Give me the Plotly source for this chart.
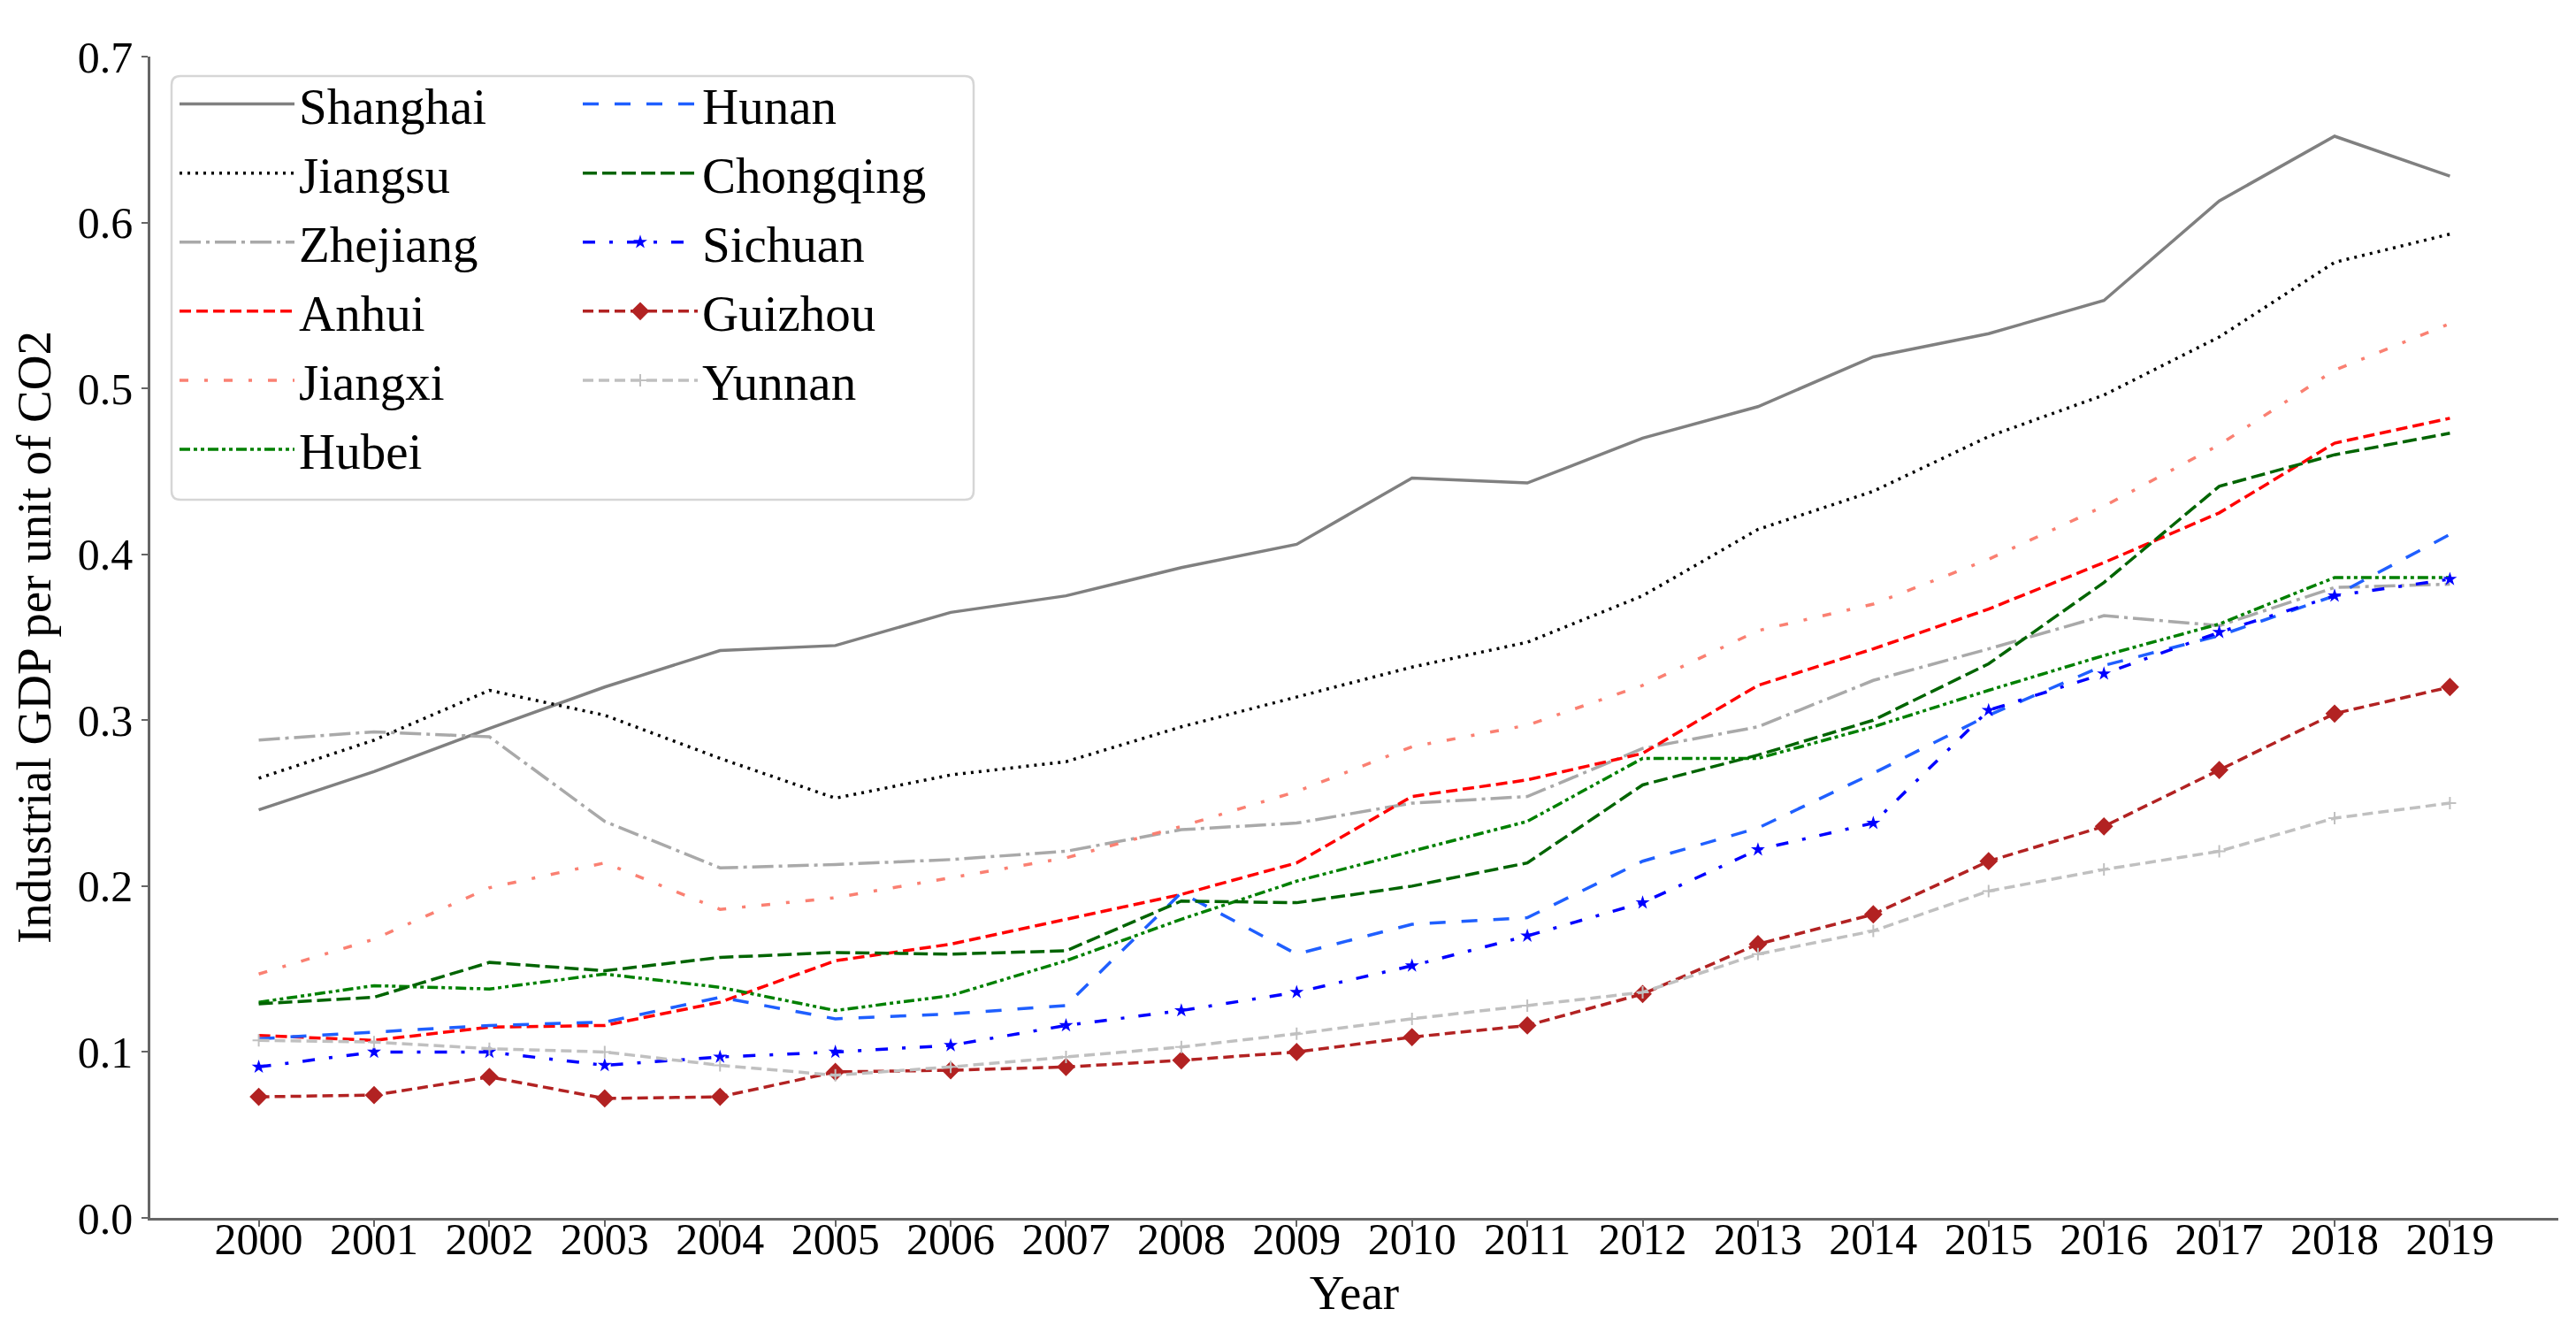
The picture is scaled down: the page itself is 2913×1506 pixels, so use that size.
import plotly.graph_objects as go

years = list(range(2000, 2020))

shanghai = [0.246, 0.269, 0.295, 0.320, 0.342, 0.345, 0.365, 0.375, 0.392, 0.406,
            0.446, 0.443, 0.470, 0.489, 0.519, 0.533, 0.553, 0.613, 0.652, 0.628]
jiangsu = [0.265, 0.288, 0.318, 0.303, 0.277, 0.253, 0.267, 0.275, 0.296, 0.314,
           0.332, 0.347, 0.375, 0.415, 0.438, 0.471, 0.496, 0.531, 0.576, 0.593]
zhejiang = [0.288, 0.293, 0.290, 0.239, 0.211, 0.213, 0.216, 0.221, 0.234, 0.238,
            0.250, 0.254, 0.283, 0.296, 0.324, 0.343, 0.363, 0.357, 0.380, 0.382]
anhui = [0.110, 0.107, 0.115, 0.116, 0.130, 0.155, 0.165, 0.180, 0.195, 0.214,
         0.254, 0.264, 0.280, 0.321, 0.343, 0.367, 0.395, 0.425, 0.467, 0.482]
jiangxi = [0.147, 0.168, 0.199, 0.214, 0.186, 0.193, 0.205, 0.217, 0.236, 0.257,
           0.284, 0.297, 0.321, 0.354, 0.370, 0.397, 0.429, 0.466, 0.511, 0.539]
hubei = [0.130, 0.140, 0.138, 0.147, 0.139, 0.125, 0.134, 0.155, 0.180, 0.203,
         0.221, 0.239, 0.277, 0.277, 0.296, 0.318, 0.339, 0.358, 0.386, 0.386]
hunan = [0.108, 0.112, 0.116, 0.118, 0.133, 0.120, 0.123, 0.128, 0.196, 0.159,
         0.177, 0.181, 0.215, 0.235, 0.268, 0.303, 0.333, 0.351, 0.375, 0.412]
chongqing = [0.129, 0.133, 0.154, 0.149, 0.157, 0.160, 0.159, 0.161, 0.191, 0.190,
             0.200, 0.214, 0.261, 0.279, 0.300, 0.334, 0.383, 0.441, 0.460, 0.473]
sichuan = [0.091, 0.100, 0.100, 0.092, 0.097, 0.100, 0.104, 0.116, 0.125, 0.136,
           0.152, 0.170, 0.190, 0.222, 0.238, 0.306, 0.328, 0.353, 0.375, 0.385]
guizhou = [0.073, 0.074, 0.085, 0.072, 0.073, 0.088, 0.089, 0.091, 0.095, 0.100,
           0.109, 0.116, 0.135, 0.165, 0.183, 0.215, 0.236, 0.270, 0.304, 0.320]
yunnan = [0.107, 0.106, 0.102, 0.100, 0.092, 0.086, 0.091, 0.097, 0.103, 0.111,
          0.120, 0.128, 0.136, 0.159, 0.173, 0.197, 0.210, 0.221, 0.241, 0.250]

series_names = ["Shanghai", "Jiangsu", "Zhejiang", "Anhui", "Jiangxi", "Hubei",
                "Hunan", "Chongqing", "Sichuan", "Guizhou", "Yunnan"]
series_values = [shanghai, jiangsu, zhejiang, anhui, jiangxi, hubei,
                 hunan, chongqing, sichuan, guizhou, yunnan]

y_ticks = [0.0, 0.1, 0.2, 0.3, 0.4, 0.5, 0.6, 0.7]

LW = 3.5
styles = {
    "Shanghai": dict(color="#808080", dash="solid", marker=None, legend="legend"),
    "Jiangsu": dict(color="#000000", dash="3px,6px", marker=None, legend="legend"),
    "Zhejiang": dict(color="#a9a9a9", dash="24px,6px,4px,6px", marker=None, legend="legend"),
    "Anhui": dict(color="#ff0000", dash="13px,6px", marker=None, legend="legend"),
    "Jiangxi": dict(color="#fa8072", dash="10px,18px,4px,18px", marker=None, legend="legend"),
    "Hubei": dict(color="#008000", dash="12px,4px,4px,4px,4px,4px", marker=None, legend="legend"),
    "Hunan": dict(color="#1f5fff", dash="18px,18px", marker=None, legend="legend2"),
    "Chongqing": dict(color="#006400", dash="16px,6px", marker=None, legend="legend2"),
    "Sichuan": dict(color="#0000ff", dash="14px,16px,4px,16px",
                    marker=dict(symbol="star", size=12, color="#0000ff"), legend="legend2"),
    "Guizhou": dict(color="#b22222", dash="12px,6px",
                    marker=dict(symbol="diamond", size=16, color="#b22222"), legend="legend2"),
    "Yunnan": dict(color="#c0c0c0", dash="12px,6px",
                   marker=dict(symbol="cross-thin", size=10, color="#c0c0c0",
                               line=dict(width=2, color="#c0c0c0")), legend="legend2"),
}

fig = go.Figure()
for i, (name, vals) in enumerate(zip(series_names, series_values)):
    st = styles[name]
    kw = dict(mode="lines")
    if st["marker"] is not None:
        kw = dict(mode="lines+markers", marker=st["marker"])
    fig.add_trace(go.Scatter(
        x=years, y=vals, name=name,
        line=dict(color=st["color"], width=LW, dash=st["dash"]),
        legend=st["legend"], legendgroup=name, **kw))

FONT = "Liberation Serif"
W, H = 2913, 1506
ml, mr, mt, mb = 162, 28, 56, 137
pw, ph = W - ml - mr, H - mt - mb

def px2paper(x, y):
    return (x - ml) / pw, 1 - (y - mt) / ph

# legend frame (rounded rectangle) in paper coords
bx0, by0, bx1, by1, r = 186, 78, 1093, 557, 10
rx, ry = r / pw, r / ph
X0, Y0 = px2paper(bx0, by0)
X1, Y1 = px2paper(bx1, by1)
path = (f"M{X0+rx},{Y0} L{X1-rx},{Y0} Q{X1},{Y0} {X1},{Y0-ry} "
        f"L{X1},{Y1+ry} Q{X1},{Y1} {X1-rx},{Y1} L{X0+rx},{Y1} "
        f"Q{X0},{Y1} {X0},{Y1+ry} L{X0},{Y0-ry} Q{X0},{Y0} {X0+rx},{Y0} Z")
fig.add_shape(type="path", path=path, xref="paper", yref="paper",
              line=dict(color="#d6d6d6", width=2.5), fillcolor="white", layer="below")

legend_common = dict(font=dict(family=FONT, size=57, color="black"),
                     bgcolor="rgba(0,0,0,0)", borderwidth=0,
                     tracegroupgap=1, itemwidth=130,
                     xanchor="left", yanchor="top")
lx1, ly = px2paper(190, 66)
lx2, _ = px2paper(646, 66)

fig.update_layout(
    width=W, height=H,
    margin=dict(l=ml, r=mr, t=mt, b=mb),
    plot_bgcolor="white", paper_bgcolor="white",
    font=dict(family=FONT, color="black"),
    legend=dict(x=lx1, y=ly, **legend_common),
    legend2=dict(x=lx2, y=ly, **legend_common),
    xaxis=dict(
        range=[1999.06, 2019.94], tickmode="array", tickvals=years,
        ticktext=[str(y) for y in years],
        showgrid=False, zeroline=False, showline=True, linecolor="#666666", linewidth=2.5,
        ticks="outside", ticklen=7, tickwidth=2, tickcolor="#666666",
        ticklabelstandoff=-29,
        tickfont=dict(family=FONT, size=50, color="black"),
        title=dict(text="Year", font=dict(family=FONT, size=55, color="black"), standoff=14),
    ),
    yaxis=dict(
        range=[0, 0.7], tickmode="array", tickvals=y_ticks,
        ticktext=[f"{v:.1f}" for v in y_ticks],
        showgrid=False, zeroline=False, showline=True, linecolor="#666666", linewidth=2.5,
        ticks="outside", ticklen=7, tickwidth=2, tickcolor="#666666",
        tickfont=dict(family=FONT, size=50, color="black"),
        title=dict(text="Industrial GDP per unit of CO2",
                   font=dict(family=FONT, size=55, color="black"), standoff=14),
    ),
)

fig.write_html("out.html")
